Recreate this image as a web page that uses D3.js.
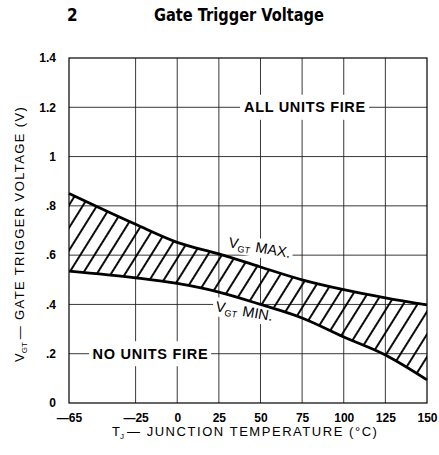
<!DOCTYPE html>
<html>
<head>
<meta charset="utf-8">
<script src="https://cdn.jsdelivr.net/npm/d3@7"></script>
<style>
  html, body { margin: 0; padding: 0; background: #fff; }
  svg { display: block; }
  text { font-family: "Liberation Sans", Arial, sans-serif; fill: #000; }
</style>
</head>
<body>
<script>
// ---- Data ----
const temps = [-65, -25, 0, 25, 50, 75, 100, 125, 150];
const vgtMax = [0.85, 0.725, 0.652, 0.605, 0.552, 0.50, 0.46, 0.427, 0.398];
const vgtMin = [0.535, 0.508, 0.485, 0.45, 0.40, 0.345, 0.268, 0.195, 0.094];
const xTicks = [-65, -25, 0, 25, 50, 75, 100, 125, 150];
const xTickLabels = ["\u201465", "\u201425", "0", "25", "50", "75", "100", "125", "150"];
const yTicks = [0, 0.2, 0.4, 0.6, 0.8, 1.0, 1.2, 1.4];
const yTickLabels = ["0", ".2", ".4", ".6", ".8", "1", "1.2", "1.4"];

const W = 439, H = 455;
const margin = {top: 58, right: 12, bottom: 52, left: 69};
const iw = W - margin.left - margin.right;
const ih = H - margin.top - margin.bottom;

const svg = d3.select("body").append("svg").attr("width", W).attr("height", H);
const defs = svg.append("defs");

const x = d3.scaleLinear().domain([-65, 150]).range([0, iw]);
const y = d3.scaleLinear().domain([0, 1.4]).range([ih, 0]);

const g = svg.append("g").attr("transform", `translate(${margin.left},${margin.top})`);

// Grid
const gridColor = "#222";
g.append("g").selectAll("line.v").data(xTicks.slice(1, -1)).join("line")
  .attr("x1", d => x(d)).attr("x2", d => x(d)).attr("y1", 0).attr("y2", ih)
  .attr("stroke", gridColor).attr("stroke-width", 0.9);
g.append("g").selectAll("line.h").data(yTicks.slice(1, -1)).join("line")
  .attr("x1", 0).attr("x2", iw).attr("y1", d => y(d)).attr("y2", d => y(d))
  .attr("stroke", gridColor).attr("stroke-width", 0.9);

// Label white backgrounds (region labels)
function bgRect(cx, cy, w, h) {
  g.append("rect").attr("x", cx - w / 2).attr("y", cy - h / 2).attr("width", w).attr("height", h)
    .attr("fill", "#fff");
}
bgRect(x(75) + 2.5, y(1.2), 129, 25);
bgRect(x(-25) + 14.5, y(0.2), 122, 25);

// Hatch pattern
const pat = defs.append("pattern").attr("id", "hatch").attr("patternUnits", "userSpaceOnUse")
  .attr("width", 12).attr("height", 12).attr("patternTransform", "rotate(32)");
pat.append("line").attr("x1", 6).attr("x2", 6).attr("y1", -1).attr("y2", 13)
  .attr("stroke", "#000").attr("stroke-width", 1.9);

const band = temps.map((t, i) => ({t, lo: vgtMin[i], hi: vgtMax[i]}));
const curve = d3.curveMonotoneX;
const area = d3.area().x(d => x(d.t)).y0(d => y(d.lo)).y1(d => y(d.hi)).curve(curve);
g.append("path").datum(band).attr("d", area).attr("fill", "url(#hatch)");

// Curve label groups with white backgrounds
const maxLbl = g.append("g").attr("transform", `translate(159,189) rotate(10)`);
const minLbl = g.append("g").attr("transform", `translate(146,253) rotate(10)`);
[maxLbl, minLbl].forEach(l => l.append("rect").attr("x", -3).attr("y", -14).attr("width", 68).attr("height", 19).attr("fill", "#fff"));

// Curves
const lineGen = d3.line().x((d, i) => x(temps[i])).y(d => y(d)).curve(curve);
g.append("path").datum(vgtMax).attr("d", lineGen).attr("fill", "none").attr("stroke", "#000").attr("stroke-width", 2.8);
g.append("path").datum(vgtMin).attr("d", lineGen).attr("fill", "none").attr("stroke", "#000").attr("stroke-width", 2.8);

// Frame
g.append("rect").attr("x", 0).attr("y", 0).attr("width", iw).attr("height", ih)
  .attr("fill", "none").attr("stroke", "#000").attr("stroke-width", 1.2);

// Curve labels
function vLabel(sel, main) {
  const t = sel.append("text").attr("x", 0).attr("y", 0).style("font-size", "14.5px");
  t.append("tspan").text("V");
  t.append("tspan").attr("dy", 3).style("font-size", "9px").text("GT");
  t.append("tspan").attr("dy", -3).attr("dx", 5).text(main);
}
vLabel(maxLbl, "MAX.");
vLabel(minLbl, "MIN.");

// Region labels
g.append("text").attr("x", x(75) + 2.5).attr("y", y(1.2)).attr("text-anchor", "middle")
  .attr("dominant-baseline", "central").attr("textLength", 121).attr("lengthAdjust", "spacing")
  .style("font-size", "14.5px").style("font-weight", "bold").text("ALL UNITS FIRE");
g.append("text").attr("x", x(-25) + 14.5).attr("y", y(0.2)).attr("text-anchor", "middle")
  .attr("dominant-baseline", "central").attr("textLength", 115).attr("lengthAdjust", "spacing")
  .style("font-size", "14.5px").style("font-weight", "bold").text("NO UNITS FIRE");

// Axes
const xAxis = d3.axisBottom(x).tickValues(xTicks).tickSize(0).tickPadding(10)
  .tickFormat((d, i) => xTickLabels[i]);
const gx = g.append("g").attr("transform", `translate(0,${ih})`).call(xAxis);
gx.select(".domain").remove();
gx.selectAll("text").style("font-size", "12px").style("font-weight", "bold")
  .style("font-family", '"Liberation Sans", Arial, sans-serif');

const yAxis = d3.axisLeft(y).tickValues(yTicks).tickSize(0).tickPadding(13)
  .tickFormat((d, i) => yTickLabels[i]);
const gy = g.append("g").call(yAxis);
gy.select(".domain").remove();
gy.selectAll("text").style("font-size", "12px").style("font-weight", "bold")
  .style("font-family", '"Liberation Sans", Arial, sans-serif');

// Axis titles
const xt = svg.append("text").attr("x", 112).attr("y", 436).style("font-size", "13px");
xt.append("tspan").text("T");
xt.append("tspan").attr("dy", 3).style("font-size", "8px").text("J");
xt.append("tspan").attr("dy", -3).attr("dx", 3).text("\u2014 JUNCTION TEMPERATURE (\u00B0C)")
  .attr("textLength", 250).attr("lengthAdjust", "spacing");

const yt = svg.append("text").attr("transform", `translate(24,362) rotate(-90)`).style("font-size", "13px");
yt.append("tspan").text("V");
yt.append("tspan").attr("dy", 3).style("font-size", "8px").text("GT");
yt.append("tspan").attr("dy", -3).attr("dx", 3).text("\u2014 GATE TRIGGER VOLTAGE (V)")
  .attr("textLength", 232).attr("lengthAdjust", "spacing");

// Titles
svg.append("text").attr("x", 67).attr("y", 21).style("font-size", "17px").style("font-weight", "bold")
  .style("font-family", '"Liberation Sans Narrow", "DejaVu Sans Condensed", Arial, sans-serif').text("2");
svg.append("text").attr("x", 154).attr("y", 21).attr("textLength", 170).attr("lengthAdjust", "spacingAndGlyphs")
  .style("font-size", "17px").style("font-weight", "bold")
  .style("font-family", '"Liberation Sans Narrow", "DejaVu Sans Condensed", Arial, sans-serif')
  .text("Gate Trigger Voltage");
</script>
</body>
</html>
